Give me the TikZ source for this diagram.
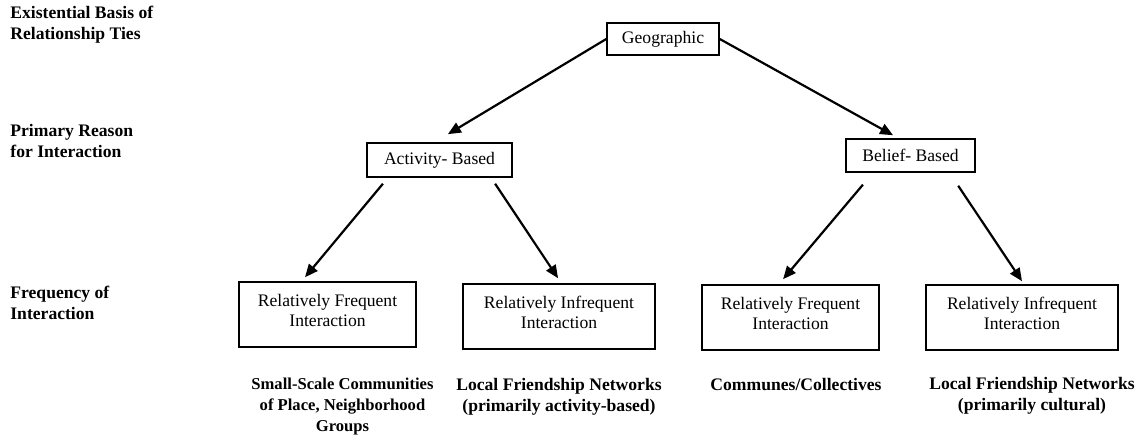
\documentclass[tikz,border=0pt]{standalone}
\usepackage{fontspec}
\setmainfont{Liberation Serif}
\usetikzlibrary{positioning}
\usetikzlibrary{arrows.meta}
\begin{document}
\begin{tikzpicture}[%
x=0.5pt, y=-0.5pt,
font=\fontsize{8.8}{10.2}\selectfont,
boks/.style={draw,line width=0.75pt,inner sep=0pt,align=center},
storboks/.style={boks,minimum height=32.5pt,execute at end node={\rule[-4pt]{0pt}{4pt}}},
nivaa/.style={font=\fontsize{8.8}{10.3}\selectfont\bfseries,align=left,anchor=north west,inner sep=0pt},
utfall/.style={font=\fontsize{8.8}{10.4}\selectfont\bfseries,align=center,inner sep=0pt},
pil/.style={-{Triangle[length=6.5pt,width=5.5pt]},line width=1.1pt,shorten >=3pt},
node distance=14pt]
\useasboundingbox (0,0) rectangle (1138,437);
% niva-tekster til venstre
\node [nivaa] (basis) at (10,6)   {Existential Basis of\\Relationship Ties};
\node [nivaa] (grunn) at (10,124) {Primary Reason\\for Interaction};
\node [nivaa] (frekv) at (10,286) {Frequency of\\Interaction};
% bokser
\node [boks, minimum width=56pt, minimum height=16pt]   (geo) at (663,39)     {Geographic};
\node [boks, minimum width=72.5pt, minimum height=17pt] (akt) at (439.5,160)  {Activity- Based};
\node [boks, minimum width=64.5pt, minimum height=16.5pt] (tro) at (910.5,155.5) {Belief- Based};
\node [storboks, minimum width=88.5pt] (aktofte)    at (327.5,314.5) {Relatively Frequent\\Interaction};
\node [storboks, minimum width=96pt]   (aktsjelden) at (559,316.5)   {Relatively Infrequent\\Interaction};
\node [storboks, minimum width=88.5pt] (troofte)    at (790.5,317.5) {Relatively Frequent\\Interaction};
\node [storboks, minimum width=96pt]   (trosjelden) at (1022,317.5)  {Relatively Infrequent\\Interaction};
% utfall under boksene
\node [utfall, font=\fontsize{8.3}{10.4}\selectfont\bfseries, below=15pt of aktofte, xshift=7.5pt] (smaa) {Small-Scale Communities\\of Place, Neighborhood\\Groups};
\node [utfall, below=14pt of aktsjelden]              (venner1)  {Local Friendship Networks\\(primarily activity-based)};
\node [utfall, below=13.5pt of troofte, xshift=2.75pt] (kommuner) {Communes/Collectives};
\node [utfall, below=13pt of trosjelden, xshift=5pt]   (venner2)  {Local Friendship Networks\\(primarily cultural)};
% piler
\draw [pil, shorten >=7.8pt] (geo.west) -- ([xshift=-2.5pt]akt.north);
\draw [pil, shorten >=3.1pt] (geo.east) -- ([xshift=-6pt]tro.north);
\draw [pil, shorten <=3.9pt, shorten >=2.6pt] ([xshift=-25.8pt]akt.south) -- ([xshift=-12.9pt]aktofte.north);
\draw [pil, shorten <=3.6pt, shorten >=3pt]   ([xshift=25.8pt]akt.south)  -- ([xshift=1.2pt]aktsjelden.north);
\draw [pil, shorten <=7.8pt, shorten >=3.3pt] ([xshift=-18.75pt]tro.south) -- ([xshift=-5.85pt]troofte.north);
\draw [pil, shorten <=7.8pt, shorten >=1.8pt] ([xshift=19.5pt]tro.south)  -- ([xshift=1pt]trosjelden.north);
\end{tikzpicture}
\end{document}
